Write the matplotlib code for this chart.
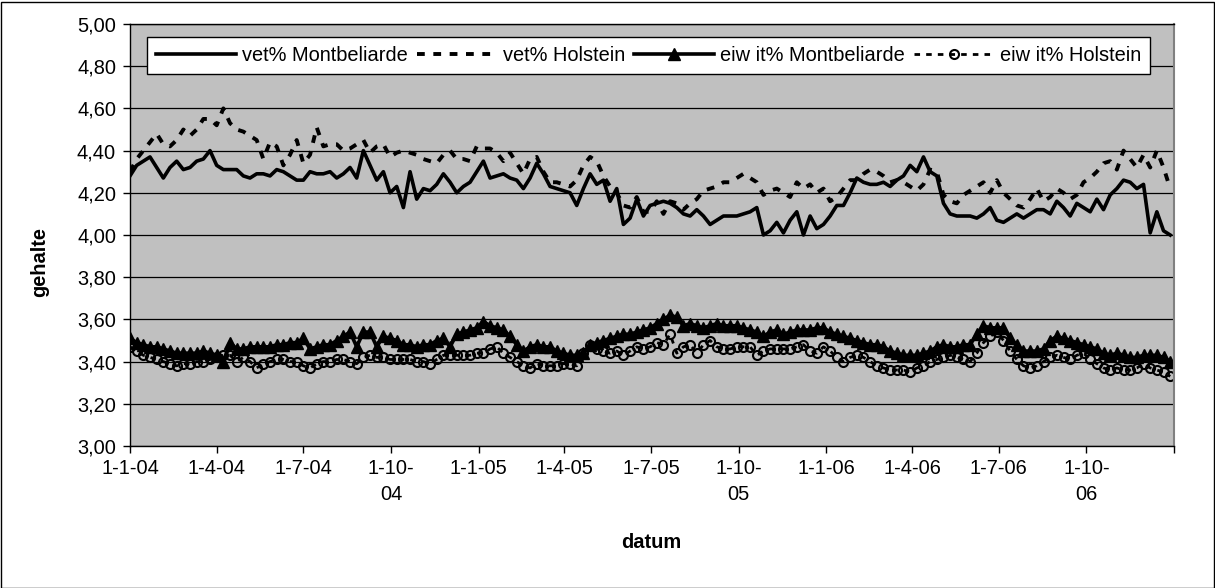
import matplotlib
matplotlib.use("Agg")
import matplotlib.pyplot as plt
import matplotlib.ticker as mticker
import pandas as pd

plt.rcParams['font.family'] = ['Liberation Sans', 'DejaVu Sans']

# weekly sample dates
dates = pd.date_range('2004-01-01', periods=157, freq='7D')

vet_montbeliarde = [
    4.28, 4.33, 4.35, 4.37, 4.32, 4.27, 4.32, 4.35, 4.31, 4.32,
    4.35, 4.36, 4.40, 4.33, 4.31, 4.31, 4.31, 4.28, 4.27, 4.29,
    4.29, 4.28, 4.31, 4.30, 4.28, 4.26, 4.26, 4.30, 4.29, 4.29,
    4.30, 4.27, 4.29, 4.32, 4.27, 4.40, 4.33, 4.26, 4.30, 4.20,
    4.23, 4.13, 4.30, 4.17, 4.22, 4.21, 4.24, 4.29, 4.25, 4.20,
    4.23, 4.25, 4.30, 4.35, 4.27, 4.28, 4.29, 4.27, 4.26, 4.22,
    4.27, 4.34, 4.29, 4.23, 4.22, 4.21, 4.20, 4.14, 4.22, 4.29,
    4.24, 4.26, 4.16, 4.22, 4.05, 4.08, 4.17, 4.09, 4.14, 4.15,
    4.16, 4.15, 4.13, 4.10, 4.09, 4.12, 4.09, 4.05, 4.07, 4.09,
    4.09, 4.09, 4.10, 4.11, 4.13, 4.00, 4.02, 4.06, 4.01, 4.07,
    4.11, 4.00, 4.09, 4.03, 4.05, 4.09, 4.14, 4.14, 4.20, 4.27,
    4.25, 4.24, 4.24, 4.25, 4.23, 4.26, 4.28, 4.33, 4.30, 4.37,
    4.30, 4.28, 4.15, 4.10, 4.09, 4.09, 4.09, 4.08, 4.10, 4.13,
    4.07, 4.06, 4.08, 4.10, 4.08, 4.10, 4.12, 4.12, 4.10, 4.16,
    4.13, 4.09, 4.15, 4.13, 4.11, 4.17, 4.12, 4.19, 4.22, 4.26,
    4.25, 4.22, 4.24, 4.01, 4.11, 4.02, 4.00,
]

vet_holstein = [
    4.30, 4.36, 4.40, 4.44, 4.48, 4.43, 4.42, 4.45, 4.50, 4.47,
    4.50, 4.55, 4.55, 4.52, 4.60, 4.53, 4.50, 4.49, 4.47, 4.45,
    4.36, 4.44, 4.42, 4.33, 4.38, 4.45, 4.34, 4.38, 4.51, 4.42,
    4.43, 4.43, 4.40, 4.41, 4.43, 4.45, 4.39, 4.42, 4.43, 4.37,
    4.39, 4.40, 4.39, 4.38, 4.36, 4.35, 4.34, 4.38, 4.40, 4.36,
    4.36, 4.35, 4.42, 4.41, 4.41, 4.39, 4.35, 4.39, 4.34, 4.29,
    4.36, 4.37, 4.30, 4.25, 4.25, 4.24, 4.23, 4.26, 4.33, 4.37,
    4.35, 4.28, 4.23, 4.20, 4.14, 4.13, 4.18, 4.11, 4.11, 4.16,
    4.10, 4.16, 4.15, 4.12, 4.15, 4.17, 4.21, 4.22, 4.23, 4.25,
    4.25, 4.27, 4.29, 4.27, 4.25, 4.19, 4.21, 4.22, 4.20, 4.18,
    4.25, 4.22, 4.24, 4.20, 4.22, 4.16, 4.18, 4.22, 4.26, 4.26,
    4.29, 4.31, 4.30, 4.28, 4.25, 4.26, 4.25, 4.23, 4.21, 4.24,
    4.31, 4.30, 4.19, 4.16, 4.15, 4.19, 4.21, 4.23, 4.25, 4.20,
    4.26, 4.20, 4.17, 4.14, 4.13, 4.17, 4.22, 4.16, 4.18, 4.22,
    4.20, 4.17, 4.19, 4.25, 4.27, 4.30, 4.34, 4.35, 4.31, 4.40,
    4.36, 4.32, 4.38, 4.32, 4.40, 4.32, 4.22,
]

eiwit_montbeliarde = [
    3.51, 3.49, 3.48, 3.47, 3.47, 3.46, 3.45, 3.44, 3.44, 3.44,
    3.44, 3.45, 3.44, 3.43, 3.40, 3.49, 3.46, 3.46, 3.47, 3.47,
    3.47, 3.47, 3.48, 3.48, 3.49, 3.49, 3.51, 3.46, 3.47, 3.48,
    3.48, 3.50, 3.52, 3.54, 3.47, 3.54, 3.54, 3.47, 3.52, 3.51,
    3.50, 3.48, 3.48, 3.47, 3.48, 3.48, 3.50, 3.51, 3.47, 3.53,
    3.54, 3.55, 3.56, 3.59, 3.57, 3.56, 3.55, 3.52, 3.48, 3.45,
    3.47, 3.48, 3.47, 3.47, 3.45, 3.44, 3.43, 3.43, 3.44, 3.48,
    3.49, 3.50, 3.51, 3.52, 3.53, 3.53, 3.54, 3.55, 3.56, 3.58,
    3.60, 3.62, 3.61, 3.57, 3.58, 3.57, 3.56, 3.57, 3.58, 3.57,
    3.57, 3.57, 3.56, 3.55, 3.54, 3.52, 3.54, 3.55, 3.53, 3.54,
    3.55, 3.55, 3.55, 3.56, 3.56, 3.54, 3.53, 3.52, 3.51, 3.50,
    3.49, 3.48, 3.48, 3.47, 3.45, 3.44, 3.43, 3.43, 3.43, 3.44,
    3.45, 3.47, 3.48, 3.47, 3.47, 3.48, 3.48, 3.53, 3.57, 3.56,
    3.56, 3.56, 3.51, 3.48, 3.45, 3.45, 3.45, 3.46, 3.50, 3.52,
    3.51, 3.50, 3.49, 3.48, 3.47, 3.46, 3.44, 3.43, 3.44, 3.43,
    3.42, 3.42, 3.43, 3.43, 3.43, 3.42, 3.40,
]

eiwit_holstein = [
    3.47, 3.45, 3.43, 3.42, 3.41, 3.40, 3.39, 3.38, 3.39, 3.39,
    3.40, 3.40, 3.41, 3.42, 3.43, 3.43, 3.40, 3.42, 3.40, 3.37,
    3.39, 3.40, 3.41, 3.41, 3.40, 3.40, 3.38, 3.37, 3.39, 3.40,
    3.40, 3.41, 3.41, 3.40, 3.39, 3.42, 3.43, 3.42, 3.42, 3.41,
    3.41, 3.41, 3.41, 3.40, 3.40, 3.39, 3.41, 3.43, 3.43, 3.43,
    3.43, 3.43, 3.44, 3.44, 3.46, 3.47, 3.44, 3.42, 3.40, 3.38,
    3.37, 3.39, 3.38, 3.38, 3.38, 3.39, 3.39, 3.38, 3.44, 3.48,
    3.46, 3.45, 3.44, 3.45, 3.43, 3.45, 3.47, 3.46, 3.47, 3.49,
    3.48, 3.53, 3.44, 3.47, 3.48, 3.44, 3.48, 3.50, 3.47, 3.46,
    3.46, 3.47, 3.47, 3.47, 3.43, 3.45, 3.46, 3.46, 3.46, 3.46,
    3.47, 3.48, 3.45, 3.44, 3.47, 3.45, 3.42, 3.40, 3.42, 3.43,
    3.42, 3.40, 3.38, 3.37, 3.36, 3.36, 3.36, 3.35, 3.37, 3.38,
    3.40, 3.41, 3.42, 3.43, 3.42, 3.41, 3.40, 3.44, 3.49, 3.52,
    3.54, 3.50, 3.45, 3.41, 3.38, 3.37, 3.38, 3.40, 3.42, 3.43,
    3.42, 3.41, 3.43, 3.44, 3.41, 3.39, 3.37, 3.36, 3.37, 3.36,
    3.36, 3.37, 3.39, 3.37, 3.36, 3.35, 3.33,
]

tick_dates = ['2004-01-01', '2004-04-01', '2004-07-01', '2004-10-01',
              '2005-01-01', '2005-04-01', '2005-07-01', '2005-10-01',
              '2006-01-01', '2006-04-01', '2006-07-01', '2006-10-01',
              '2007-01-01']
tick_labels = ['1-1-04', '1-4-04', '1-7-04', '1-10-\n04',
               '1-1-05', '1-4-05', '1-7-05', '1-10-\n05',
               '1-1-06', '1-4-06', '1-7-06', '1-10-\n06', '']
labels = ['vet% Montbeliarde', 'vet% Holstein',
          'eiw it% Montbeliarde', 'eiw it% Holstein']

FS = 14.4
W, H = 1215, 588
fig = plt.figure(figsize=(W / 100, H / 100), dpi=100)
ax = fig.add_axes([130 / W, 1 - 446 / H, 1044 / W, 422 / H])
ax.set_facecolor('#C0C0C0')

dash = (0, (2.0, 2.2))
ax.plot(dates, vet_montbeliarde, color='black', lw=2.6, label=labels[0])
ax.plot(dates, vet_holstein, color='black', lw=2.8, ls=dash, label=labels[1])
ax.plot(dates, eiwit_montbeliarde, color='black', lw=2.6, marker='^',
        ms=8, label=labels[2])
ax.plot(dates, eiwit_holstein, color='black', lw=2.0, ls=dash, marker='o',
        ms=6.5, mfc='none', mec='black', mew=1.5, label=labels[3])

ax.set_ylim(3.0, 5.0)
ax.set_xlim(pd.Timestamp('2004-01-01'), pd.Timestamp('2007-01-01'))
ax.set_yticks([3.0 + 0.2 * k for k in range(11)])
ax.yaxis.set_major_formatter(mticker.FuncFormatter(
    lambda v, p: f"{v:.2f}".replace('.', ',')))
ax.set_xticks(pd.to_datetime(tick_dates))
ax.set_xticklabels(tick_labels, linespacing=1.5)
ax.tick_params(axis='both', direction='out', length=5, width=1,
               color='black', labelsize=FS)
ax.tick_params(axis='y', pad=5)
ax.tick_params(axis='x', pad=4)

ax.yaxis.grid(True, color='black', lw=0.9)
ax.set_axisbelow(True)
for s in ['left', 'bottom', 'top']:
    ax.spines[s].set_color('black')
    ax.spines[s].set_linewidth(1)
ax.spines['right'].set_color('#808080')
ax.spines['right'].set_linewidth(1.5)

leg = ax.legend(loc='upper left', bbox_to_anchor=(17 / 1044, (446 - 37) / 422),
                ncol=4, frameon=True, fancybox=False, edgecolor='black',
                framealpha=1, fontsize=FS, borderpad=0.45, handlelength=4.0,
                handletextpad=0.3, columnspacing=0.45, borderaxespad=0)
leg.get_frame().set_linewidth(1)

fig.text(40 / W, 1 - 262 / H, 'gehalte', rotation=90, ha='center',
         va='center', fontsize=FS, fontweight='bold')
fig.text(651 / W, 1 - 542 / H, 'datum', ha='center', va='center',
         fontsize=FS, fontweight='bold')

fig.add_artist(plt.Rectangle((0.5 / W, 0.5 / H), (W - 2) / W, (H - 2) / H,
                             transform=fig.transFigure, fill=False,
                             ec='black', lw=1))

fig.savefig('out.png', dpi=100)
